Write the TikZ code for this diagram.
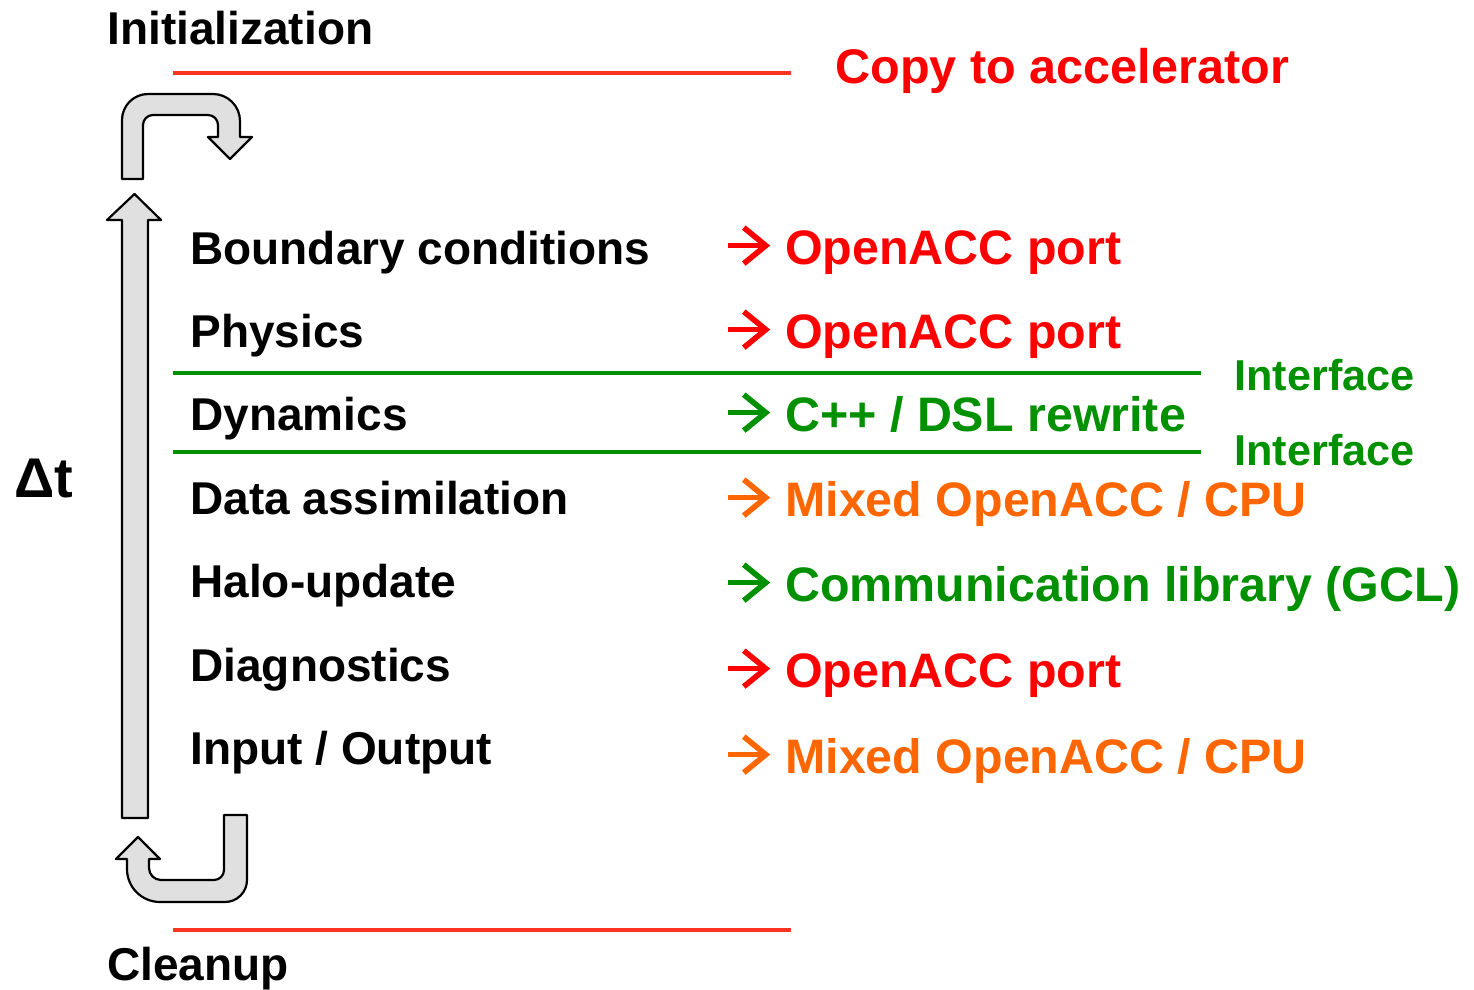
\documentclass[tikz,border=0pt]{standalone}
\usepackage{fontspec}
\setmainfont{Liberation Sans}
\usetikzlibrary{arrows.meta}
\definecolor{cred}{HTML}{FF0000}
\definecolor{lred}{HTML}{FF3322}
\definecolor{corange}{HTML}{FF6600}
\definecolor{cgreen}{HTML}{009000}
\definecolor{agray}{HTML}{E0E0E0}
\newcommand{\rarr}{\tikz[baseline=0pt]\draw[line width=2.8pt,-{Straight Barb[length=11pt,width=18pt,line width=2.8pt]}] (-1pt,9.2pt) -- (20pt,9.2pt);\hspace{5.8pt}}
\begin{document}
\begin{tikzpicture}[x=0.5pt,y=-0.5pt,
  lbl/.style={anchor=base west,inner sep=0pt,font=\bfseries\fontsize{23pt}{27pt}\selectfont},
  rlbl/.style={anchor=base west,inner sep=0pt,font=\bfseries\fontsize{24.2pt}{28pt}\selectfont},
  iface/.style={anchor=base west,inner sep=0pt,text=cgreen,font=\bfseries\fontsize{21.6pt}{25pt}\selectfont},
  bigarrow/.style={draw=black,line width=1.1pt,fill=agray,line join=round},
  redline/.style={draw=lred,line width=2pt},
  greenline/.style={draw=cgreen,line width=2pt}]
\useasboundingbox (0,0) rectangle (1474,990);
% headings
\node[lbl,font=\bfseries\fontsize{23pt}{27pt}\selectfont] (init) at (107,45) {Initialization};
\node[lbl] (clean) at (107,980) {Cleanup};
\node[rlbl,text=cred,font=\bfseries\fontsize{24.3pt}{28pt}\selectfont] (copy) at (835,84) {Copy to accelerator};
\node[anchor=base west,inner sep=0pt,font=\bfseries\fontsize{28pt}{32pt}\selectfont] (dt) at (14,497) {Δt};
% lines
\coordinate (rl1a) at (173,73); \coordinate (rl1b) at (791,73);
\coordinate (rl2a) at (173,930); \coordinate (rl2b) at (791,930);
\coordinate (gl1a) at (173,373); \coordinate (gl1b) at (1201,373);
\coordinate (gl2a) at (173,452); \coordinate (gl2b) at (1201,452);
\draw[redline] (rl1a) -- (rl1b);
\draw[redline] (rl2a) -- (rl2b);
\draw[greenline] (gl1a) -- (gl1b);
\draw[greenline] (gl2a) -- (gl2b);
\node[iface] (if1) at (1234,390) {Interface};
\node[iface] (if2) at (1234,465) {Interface};
% left column
\node[lbl] (bc) at (190,264) {Boundary conditions};
\node[lbl] (ph) at (190,347) {Physics};
\node[lbl] (dy) at (190,430) {Dynamics};
\node[lbl] (da) at (190,514) {Data assimilation};
\node[lbl] (hu) at (190,597) {Halo-update};
\node[lbl] (di) at (190,681) {Diagnostics};
\node[lbl] (io) at (190,764) {Input / Output};
% right column
\node[rlbl,text=cred] (r1) at (725,264) {\rarr OpenACC port};
\node[rlbl,text=cred] (r2) at (725,348) {\rarr OpenACC port};
\node[rlbl,text=cgreen] (r3) at (725,431) {\rarr C++ / DSL rewrite};
\node[rlbl,text=corange] (r4) at (725,516) {\rarr Mixed OpenACC / CPU};
\node[rlbl,text=cgreen] (r5) at (725,601) {\rarr Communication library (GCL)};
\node[rlbl,text=cred] (r6) at (725,687) {\rarr OpenACC port};
\node[rlbl,text=corange] (r7) at (725,773) {\rarr Mixed OpenACC / CPU};
% time-step arrow (straight)
\draw[bigarrow] (122,818) -- (122,220) -- (107,220) -- (134.5,194) -- (161,220) -- (148,220) -- (148,818) -- cycle;
% top curved arrow
\draw[bigarrow] (122,179) -- (122,120) arc[start angle=180,end angle=270,radius=26] -- (213,94)
  arc[start angle=270,end angle=360,radius=27] -- (240,137) -- (252,137) -- (230,159) -- (208,137) -- (218,137) -- (218,125)
  arc[start angle=0,end angle=-90,radius=10] -- (153,115)
  arc[start angle=270,end angle=180,radius=10] -- (143,179) -- cycle;
% bottom curved arrow
\draw[bigarrow] (224,815) -- (247,815) -- (247,880)
  arc[start angle=0,end angle=90,radius=22] -- (160,902)
  arc[start angle=90,end angle=180,radius=33] -- (127,859) -- (116,859) -- (138,837) -- (160,859) -- (149,859) -- (149,868)
  arc[start angle=180,end angle=90,radius=12] -- (214,880)
  arc[start angle=90,end angle=0,radius=10] -- cycle;
\end{tikzpicture}
\end{document}
